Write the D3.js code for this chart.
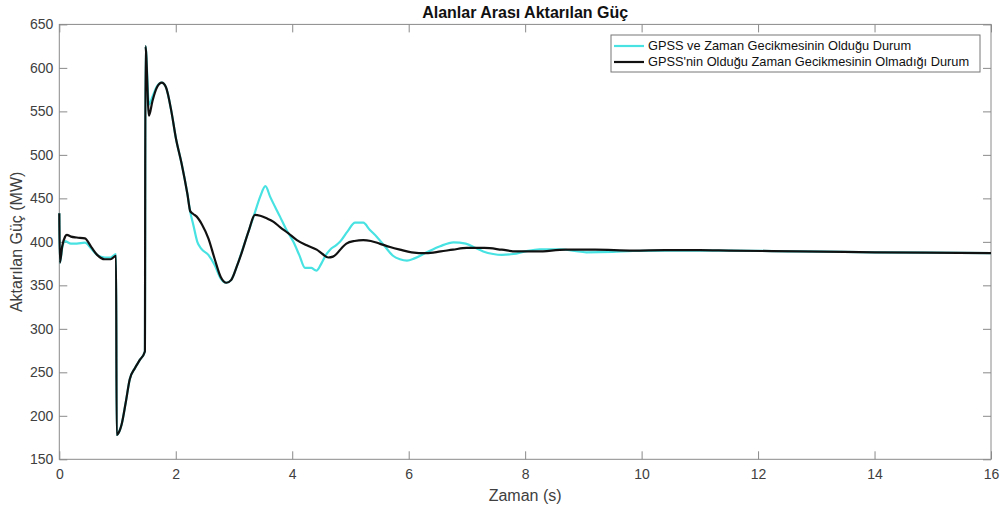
<!DOCTYPE html>
<html><head><meta charset="utf-8">
<script src="https://cdn.jsdelivr.net/npm/d3@7"></script>
<style>
body{margin:0;background:#fff;}
svg{display:block;font-family:"Liberation Sans",Arial,Helvetica,sans-serif;}
</style></head>
<body><svg id="chart" width="1001" height="508"></svg>
<script>
const title = "Alanlar Arası Aktarılan Güç";
const xLabel = "Zaman (s)";
const yLabel = "Aktarılan Güç (MW)";
const seriesNames = ["GPSS ve Zaman Gecikmesinin Olduğu Durum", "GPSS'nin Olduğu Zaman Gecikmesinin Olmadığı Durum"];
const xTicks = [0,2,4,6,8,10,12,14,16];
const yTicks = [150,200,250,300,350,400,450,500,550,600,650];

const blackT = [0,0.01,0.05,0.1,0.13,0.2,0.3,0.44,0.55,0.65,0.78,0.88,0.975,0.985,1.03,1.07,1.14,1.21,1.3,1.38,1.47,1.48,1.54,1.6,1.68,1.76,1.83,1.93,2.0,2.1,2.2,2.25,2.3,2.36,2.45,2.56,2.67,2.77,2.87,2.95,3.05,3.13,3.25,3.36,3.45,3.56,3.68,3.79,3.93,4.08,4.25,4.42,4.52,4.62,4.7,4.76,4.85,4.93,5.07,5.22,5.35,5.5,5.68,5.85,6.05,6.3,6.55,6.76,7.0,7.3,7.6,7.85,8.2,8.7,9.2,9.85,10.4,11,11.5,12.7,14,16];
const blackV = [433,376,395,406,408,406,405,404,394,385,380,380,384,178,182,190,215,242,255,264,274,625,545,562,578,583,578,548,520,490,455,435,432,429,420,404,380,360,353,356,372,387,412,431,430,427,423,417,410,402,396,391,386,382,383,386,393,398,401,402,401,398,394,391,388,387,389,391,393,393,391,389,389,391,391,390,390.5,390.5,390,389,388,387];

const cyanT = [0,0.01,0.05,0.1,0.13,0.2,0.3,0.44,0.55,0.65,0.78,0.88,0.975,0.985,1.03,1.07,1.14,1.21,1.3,1.38,1.47,1.48,1.54,1.6,1.68,1.76,1.83,1.93,2.0,2.1,2.2,2.25,2.3,2.37,2.44,2.56,2.67,2.77,2.87,2.95,3.05,3.13,3.25,3.36,3.45,3.54,3.62,3.79,3.9,4.02,4.12,4.22,4.33,4.38,4.42,4.5,4.58,4.65,4.75,4.82,4.95,5.08,5.22,5.33,5.45,5.6,5.73,5.85,5.97,6.1,6.31,6.54,6.77,6.98,7.15,7.28,7.45,7.6,7.8,8.0,8.25,8.6,8.85,9.05,9.5,9.85,10.5,11.5,12.7,14,16];
const cyanV = [433,376,393,401,400,398,398,399,392,385,382,382,386,178,182,190,215,242,255,264,274,625,558,567,579,583,578,548,520,490,455,434,420,400,392,385,373,358,353,356,372,388,412,434,452,464,452,429,414,400,385,370,370,368,367,375,385,391,396,400,412,422,422,414,406,394,384,380,378.5,381,388,395,399.5,398,393,389,386,385,386,389,391.5,391.5,389.5,388,388.5,389.5,390,390,389,388,387];

const svg = d3.select("#chart");
const L = 59.3, R = 991, T = 24.4, B = 459.3;
const x = d3.scaleLinear().domain([0,16]).range([L,R]);
const y = d3.scaleLinear().domain([150,650]).range([B,T]);
const axisColor = "#8a8a8a", textColor = "#404040";

svg.append("rect").attr("x",L).attr("y",T).attr("width",R-L).attr("height",B-T)
  .attr("fill","none").attr("stroke",axisColor).attr("stroke-width",1);

const tl = 8;
const gx = svg.append("g").attr("transform",`translate(0,${B})`)
  .call(d3.axisBottom(x).tickValues(xTicks).tickSize(-tl).tickPadding(10).tickFormat(d3.format("d")));
const gxt = svg.append("g").attr("transform",`translate(0,${T})`)
  .call(d3.axisTop(x).tickValues(xTicks).tickSize(-tl).tickFormat(""));
const gy = svg.append("g").attr("transform",`translate(${L},0)`)
  .call(d3.axisLeft(y).tickValues(yTicks).tickSize(-tl).tickPadding(6).tickFormat(d3.format("d")));
const gyr = svg.append("g").attr("transform",`translate(${R},0)`)
  .call(d3.axisRight(y).tickValues(yTicks).tickSize(-tl).tickFormat(""));
[gx,gxt,gy,gyr].forEach(g=>{
  g.select(".domain").remove();
  g.selectAll(".tick line").attr("stroke",axisColor);
  g.selectAll(".tick text").attr("fill",textColor).style("font-size","14px")
   .style("font-family","'Liberation Sans',Arial,sans-serif");
});

const line = d3.line().x(d=>x(d[0])).y(d=>y(d[1])).curve(d3.curveMonotoneX);
const cyanData = cyanT.map((t,i)=>[t,cyanV[i]]);
const blackData = blackT.map((t,i)=>[t,blackV[i]]);
svg.append("path").datum(cyanData).attr("d",line).attr("fill","none")
  .attr("stroke","#48e2e2").attr("stroke-width",2.2).attr("stroke-linejoin","round");
svg.append("path").datum(blackData).attr("d",line).attr("fill","none")
  .attr("stroke","#111").attr("stroke-width",2.2).attr("stroke-linejoin","round");

svg.append("text").attr("x",(L+R)/2).attr("y",18).attr("text-anchor","middle")
  .style("font-size","16px").style("font-weight","bold").attr("fill","#111").text(title);
svg.append("text").attr("x",(L+R)/2).attr("y",501).attr("text-anchor","middle")
  .style("font-size","16px").attr("fill",textColor).text(xLabel);
svg.append("text").attr("transform",`translate(22,${(T+B)/2}) rotate(-90)`).attr("text-anchor","middle")
  .style("font-size","16px").attr("fill",textColor).text(yLabel);

const lg = svg.append("g");
lg.append("rect").attr("x",611).attr("y",35).attr("width",369).attr("height",37)
  .attr("fill","#fff").attr("stroke","#777").attr("stroke-width",1);
const colors = ["#48e2e2","#111"];
seriesNames.forEach((n,i)=>{
  const yy = 46 + i*16;
  lg.append("line").attr("x1",614).attr("x2",644).attr("y1",yy).attr("y2",yy)
    .attr("stroke",colors[i]).attr("stroke-width",2.2);
  lg.append("text").attr("x",648).attr("y",yy).attr("dy","0.35em")
    .style("font-size","12.8px").attr("fill","#111").text(n);
});
</script></body></html>
